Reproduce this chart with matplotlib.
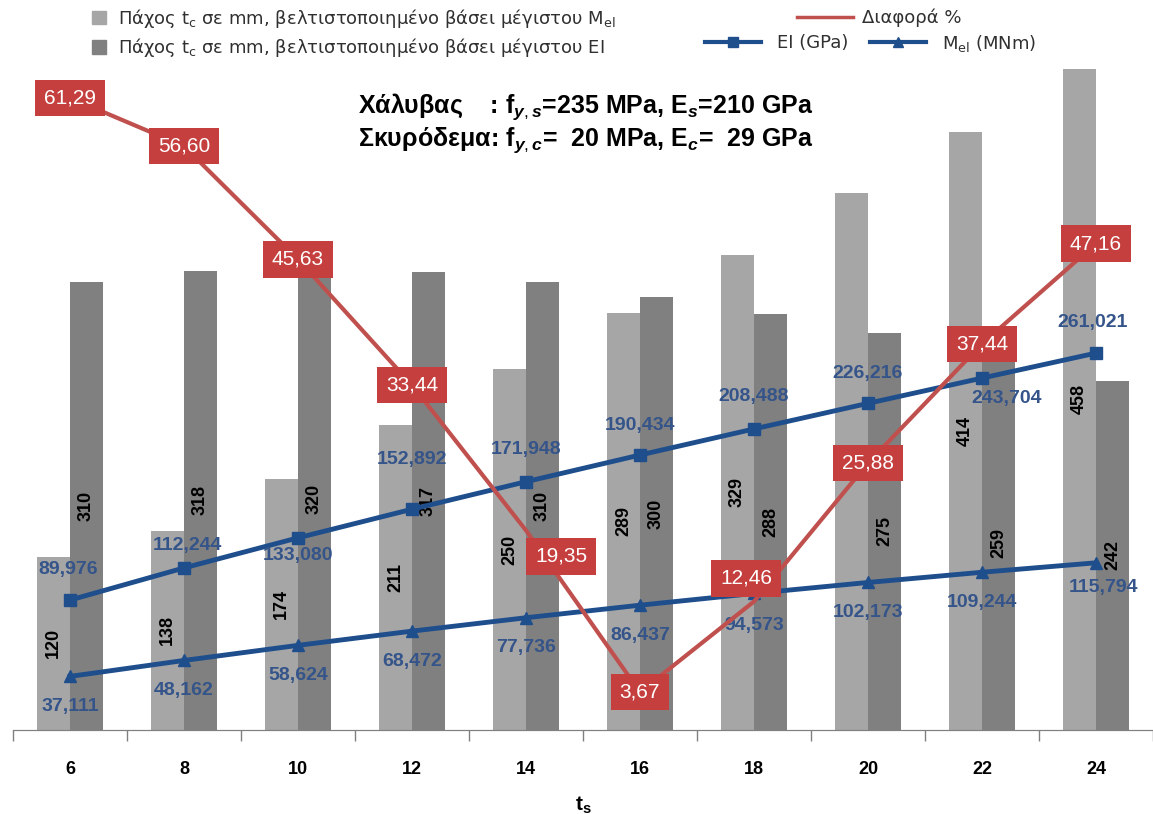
import numpy as np
import matplotlib.pyplot as plt
from matplotlib.patches import Patch
from matplotlib.lines import Line2D

plt.rcParams['font.family'] = ['Liberation Sans', 'DejaVu Sans']
plt.rcParams['mathtext.fontset'] = 'custom'
plt.rcParams['mathtext.rm'] = 'Liberation Sans'
plt.rcParams['mathtext.it'] = 'Liberation Sans:italic:bold'
plt.rcParams['mathtext.bf'] = 'Liberation Sans:bold'
plt.rcParams['mathtext.default'] = 'regular'

# πάχος χάλυβα t_s
ts = [6, 8, 10, 12, 14, 16, 18, 20, 22, 24]
# πάχος t_c (mm)
tc_mel = [120, 138, 174, 211, 250, 289, 329, 372, 414, 458]
tc_ei = [310, 318, 320, 317, 310, 300, 288, 275, 259, 242]
# EI (GPa) και M_el (MNm)
ei = [89.976, 112.244, 133.080, 152.892, 171.948, 190.434, 208.488, 226.216, 243.704, 261.021]
mel = [37.111, 48.162, 58.624, 68.472, 77.736, 86.437, 94.573, 102.173, 109.244, 115.794]
# Διαφορά %
diff = [61.29, 56.60, 45.63, 33.44, 19.35, 3.67, 12.46, 25.88, 37.44, 47.16]

LIGHT = '#a6a6a6'
DARK = '#808080'
BLUE = '#1f4e8c'
BLUE_TXT = '#34548a'
RED_LINE = '#c0504d'
RED_BOX = '#c43f3d'

fig = plt.figure(figsize=(11.53, 8.14), dpi=100)
ax = fig.add_axes([13 / 1153, 84 / 814, 1 - 13 / 1153, 722 / 814])
ax2 = ax.twinx()

x = np.arange(len(ts))
w = 0.29

b1 = ax.bar(x - w / 2, tc_mel, w, color=LIGHT, zorder=1)
b2 = ax.bar(x + w / 2, tc_ei, w, color=DARK, zorder=1)
for bars in (b1, b2):
    for r in bars:
        h = r.get_height()
        ax.text(r.get_x() + r.get_width() / 2, h / 2, f'{h:.0f}', rotation=90,
                ha='center', va='center', fontsize=13, fontweight='bold', color='black', zorder=2)

ax.plot(x, ei, color=BLUE, lw=3.5, marker='s', ms=9, zorder=3)
ax.plot(x, mel, color=BLUE, lw=3.5, marker='^', ms=9, zorder=3)

# μετατόπιση ετικετών σε pixel (dx, dy)
ei_off = [(-2, 31), (3, 22), (0, -18), (0, 50), (0, 32), (0, 30), (0, 32), (0, 30), (25, -20), (-3, 31)]
mel_off = [(0, -30), (0, -30), (0, -30), (0, -30), (0, -30), (0, -30), (0, -32), (0, -30), (0, -30), (7, -25)]
for i in range(len(ts)):
    dx, dy = ei_off[i]
    ax.annotate(f'{ei[i]:.3f}'.replace('.', ','), (x[i], ei[i]), xytext=(dx * 0.72, dy * 0.72),
                textcoords='offset points', ha='center', va='center', fontsize=14,
                fontweight='bold', color=BLUE_TXT, zorder=4)
    dx, dy = mel_off[i]
    ax.annotate(f'{mel[i]:.3f}'.replace('.', ','), (x[i], mel[i]), xytext=(dx * 0.72, dy * 0.72),
                textcoords='offset points', ha='center', va='center', fontsize=14,
                fontweight='bold', color=BLUE_TXT, zorder=4)

ax2.plot(x, diff, color=RED_LINE, lw=3, zorder=2)
diff_off = [(0, 0)] * 4 + [(35, -26), (0, 0), (-8, 23), (0, 0), (0, 0), (0, 0)]
for i in range(len(ts)):
    dx, dy = diff_off[i]
    ax2.annotate(f'{diff[i]:.2f}'.replace('.', ','), (x[i], diff[i]), xytext=(dx * 0.72, dy * 0.72),
                 textcoords='offset points', ha='center', va='center', fontsize=15, color='white',
                 bbox=dict(boxstyle='square,pad=0.42', fc=RED_BOX, ec='none'), zorder=5)

ax.set_xlim(-0.5, len(ts) - 0.5)
ax.set_ylim(0, 500)
ax2.set_ylim(0, 70)
ax.set_xticks(x)
ax.set_xticklabels([str(t) for t in ts], fontsize=13, fontweight='bold')
ax.set_xticks(np.arange(-0.5, len(ts)), minor=True)
ax.tick_params(axis='x', which='major', length=0, pad=22)
ax.tick_params(axis='x', which='minor', length=8, color='#808080', width=1)
ax.set_yticks([])
ax2.set_yticks([])
for a in (ax, ax2):
    for s in ('top', 'left', 'right'):
        a.spines[s].set_visible(False)
    a.spines['bottom'].set_color('#808080')
ax.set_xlabel('t$_s$', fontsize=15, fontweight='bold', labelpad=12)

# υπόμνημα
leg_font = {'family': ['DejaVu Sans'], 'size': 13}
bar_handles = [Patch(color=LIGHT), Patch(color=DARK)]
bar_labels = ['Πάχος t$_c$ σε mm, βελτιστοποιημένο βάσει μέγιστου M$_{el}$',
              'Πάχος t$_c$ σε mm, βελτιστοποιημένο βάσει μέγιστου EI']
fig.legend(bar_handles, bar_labels, loc='upper left', bbox_to_anchor=(92 / 1153, 1 - 7 / 814),
           frameon=False, prop=leg_font, handlelength=0.75, handleheight=0.75, handletextpad=0.7,
           borderpad=0, borderaxespad=0, labelspacing=0.35, labelcolor='#303030')
fig.legend([Line2D([], [], color=RED_LINE, lw=2.5)], ['Διαφορά %'], loc='center left',
           bbox_to_anchor=(797 / 1153, 1 - 18 / 814), frameon=False, prop=leg_font,
           handlelength=3.1, handletextpad=0.5, borderpad=0, borderaxespad=0, labelcolor='#303030')
fig.legend([Line2D([], [], color=BLUE, lw=3, marker='s', ms=7),
            Line2D([], [], color=BLUE, lw=3, marker='^', ms=7)],
           ['EI (GPa)', 'M$_{el}$ (MNm)'], loc='center left', ncol=2,
           bbox_to_anchor=(705 / 1153, 1 - 43 / 814), frameon=False, prop=leg_font,
           handlelength=3.1, handletextpad=0.9, columnspacing=1.2, borderpad=0, borderaxespad=0,
           labelcolor='#303030')

fig.text(358 / 1153, 1 - 107 / 814, 'Χάλυβας    : f$_{\\mathit{y,s}}$=235 MPa, E$_{\\mathit{s}}$=210 GPa',
         fontsize=18, fontweight='bold', va='center', ha='left')
fig.text(358 / 1153, 1 - 140 / 814, 'Σκυρόδεμα: f$_{\\mathit{y,c}}$=  20 MPa, E$_{\\mathit{c}}$=  29 GPa',
         fontsize=18, fontweight='bold', va='center', ha='left')

fig.savefig('out.png', dpi=100)
